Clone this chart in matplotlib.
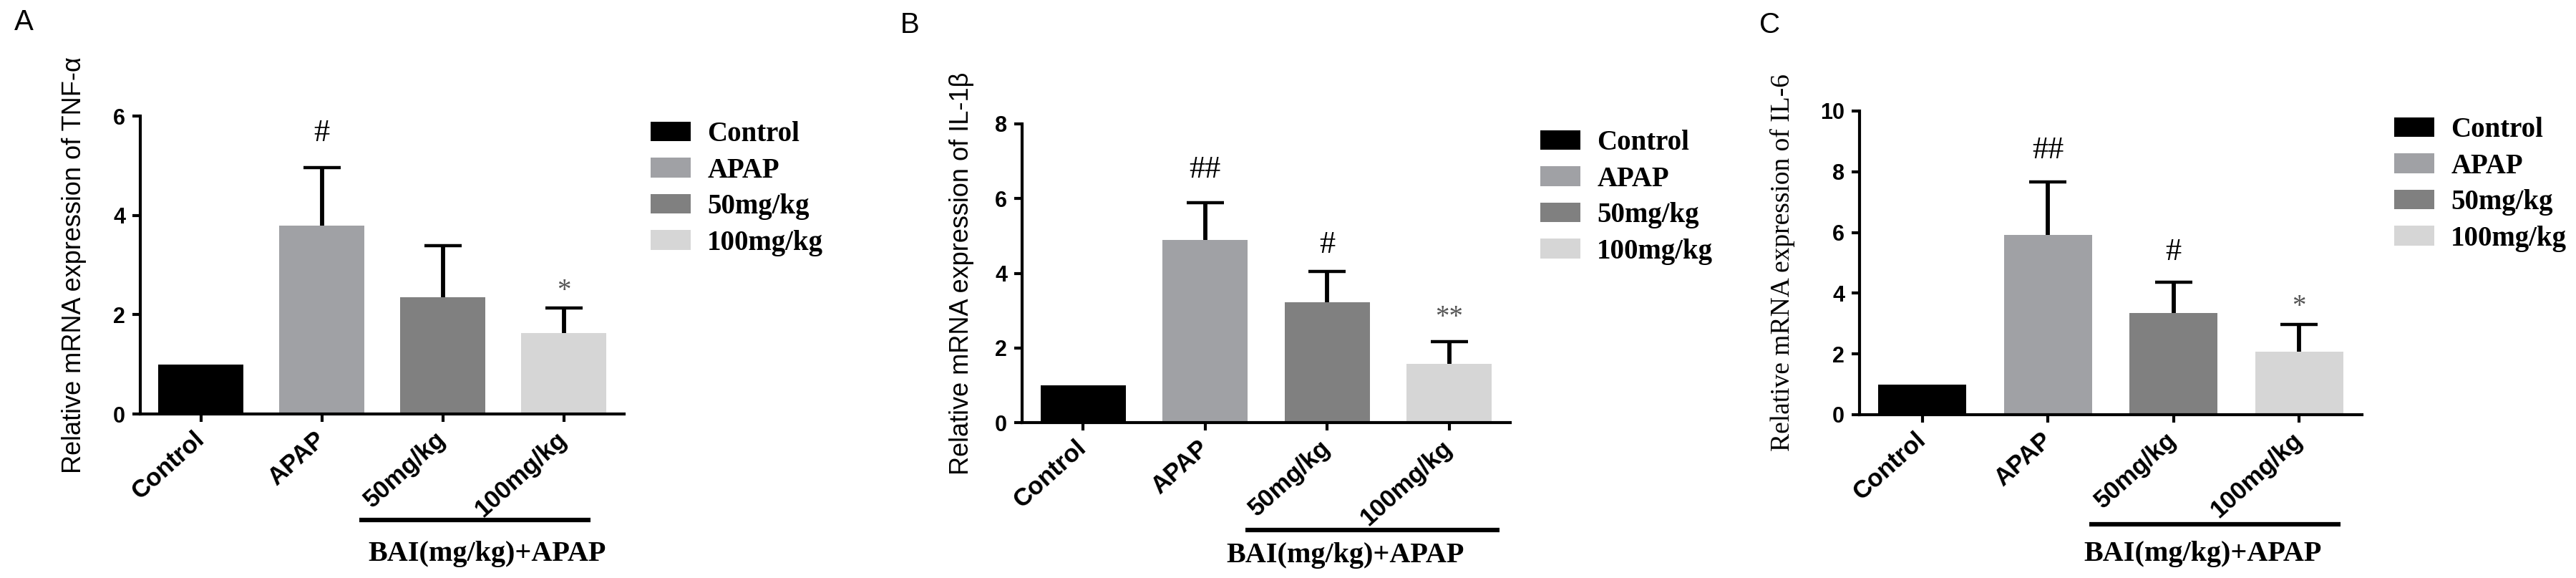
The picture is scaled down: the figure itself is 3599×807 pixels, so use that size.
import numpy as np
import matplotlib
matplotlib.use("Agg")
import matplotlib.pyplot as plt
import matplotlib.transforms as mtransforms
from matplotlib.patches import Patch

groups = ["Control", "APAP", "50mg/kg", "100mg/kg"]
colors = ["#000000", "#a0a1a5", "#808080", "#d6d6d6"]

# mean and upper error (mean + SD)
tnf_mean = [1.0, 3.79, 2.35, 1.63]
tnf_top = [1.0, 4.96, 3.39, 2.13]
tnf_marks = ["", "#", "", "*"]
tnf_mark_y = [0, 5.65, 0, 2.74]

il1b_mean = [1.0, 4.89, 3.22, 1.58]
il1b_top = [1.0, 5.89, 4.05, 2.17]
il1b_marks = ["", "##", "#", "**"]
il1b_mark_y = [0, 6.77, 4.76, 3.17]

il6_mean = [1.0, 5.93, 3.35, 2.07]
il6_top = [1.0, 7.66, 4.37, 2.98]
il6_marks = ["", "##", "#", "*"]
il6_mark_y = [0, 8.71, 5.35, 4.0]

W, H = 3599, 807
SANS = "Liberation Sans"
SERIF = "Liberation Serif"

fig = plt.figure(figsize=(W / 100, H / 100), dpi=100)

# per panel layout: axes box in px (left, top, right, bottom), legend anchor px,
# bracket (x0, x1 in data, y in axes), bracket text position
panels = [
    dict(letter="A", letter_xy=(33, 31), box=(196, 162, 872, 578), ymax=6, yticks=[0, 2, 4, 6],
         ylabel="Relative mRNA expression of TNF-α", yfont=SANS, ysize=26, ylx=-0.111,
         leg=(909, 169), line=(1.31, 3.22, -0.356), txt=(2.37, -0.471),
         mean=tnf_mean, top=tnf_top, marks=tnf_marks, mark_y=tnf_mark_y),
    dict(letter="B", letter_xy=(1271, 35), box=(1428, 173, 2110, 590), ymax=8, yticks=[0, 2, 4, 6, 8],
         ylabel="Relative mRNA expression of IL-1β", yfont=SANS, ysize=26, ylx=-0.098,
         leg=(2152, 181), line=(1.33, 3.41, -0.36), txt=(2.15, -0.446),
         mean=il1b_mean, top=il1b_top, marks=il1b_marks, mark_y=il1b_mark_y),
    dict(letter="C", letter_xy=(2473, 35), box=(2598, 155, 3300, 579), ymax=10, yticks=[0, 2, 4, 6, 8, 10],
         ylabel="Relative mRNA expression of IL-6", yfont=SERIF, ysize=27, ylx=-0.128,
         leg=(3345, 163), line=(1.33, 3.33, -0.361), txt=(2.23, -0.458),
         mean=il6_mean, top=il6_top, marks=il6_marks, mark_y=il6_mark_y),
]

x = np.arange(len(groups))

for p in panels:
    l, t, r, b = p["box"]
    ax = fig.add_axes([l / W, 1 - b / H, (r - l) / W, (b - t) / H])
    mean = np.array(p["mean"])
    top = np.array(p["top"])
    ax.bar(x, mean, width=0.7, color=colors, zorder=2)
    err = top - mean
    keep = err > 0
    _, caps, _ = ax.errorbar(x[keep], mean[keep], yerr=[np.zeros(keep.sum()), err[keep]],
                             fmt="none", ecolor="black", elinewidth=4.2, capsize=19,
                             capthick=3.2, zorder=3)
    caps[0].set_visible(False)  # only the upper cap
    for xi, m, my in zip(x, p["marks"], p["mark_y"]):
        if not m:
            continue
        if "#" in m:
            ax.text(xi, my, m, ha="center", va="center", fontsize=32, family=SERIF, color="black")
        else:
            ax.text(xi, my - 0.045 * p["ymax"], m, ha="center", va="center", fontsize=28,
                    family=SERIF, color="#555555")

    ax.set_xlim(-0.5, 3.5)
    ax.set_ylim(0, p["ymax"])
    ax.set_yticks(p["yticks"])
    ax.set_xticks(x)
    ax.set_xticklabels(groups, rotation=42, ha="right", va="center", rotation_mode="anchor",
                       fontsize=25, fontweight="bold", family=SANS)
    for lab in ax.get_yticklabels():
        lab.set_fontsize(22)
        lab.set_fontweight("bold")
        lab.set_family(SANS)
    for s in ["top", "right"]:
        ax.spines[s].set_visible(False)
    for s in ["left", "bottom"]:
        ax.spines[s].set_linewidth(3)
    ax.tick_params(axis="both", direction="out", length=8, width=3, pad=7)
    ax.tick_params(axis="x", pad=14)
    ax.set_ylabel(p["ylabel"], fontsize=p["ysize"], family=p["yfont"])
    ax.yaxis.set_label_coords(p["ylx"], 0.5)

    handles = [Patch(facecolor=c, edgecolor="none") for c in colors]
    ax.legend(handles, groups, loc="upper left", bbox_to_anchor=(p["leg"][0] / W, 1 - p["leg"][1] / H),
              bbox_transform=fig.transFigure, frameon=False, borderpad=0, borderaxespad=0,
              handlelength=1.44, handleheight=0.72, handletextpad=0.6, labelspacing=0.35,
              prop=dict(family=SERIF, weight="bold", size=28))

    trans = mtransforms.blended_transform_factory(ax.transData, ax.transAxes)
    x0, x1, ly = p["line"]
    ax.plot([x0, x1], [ly, ly], color="black", lw=4.5, transform=trans, clip_on=False,
            solid_capstyle="butt")
    ax.text(p["txt"][0], p["txt"][1], "BAI(mg/kg)+APAP", transform=trans, ha="center", va="center",
            fontsize=29, fontweight="bold", family=SERIF)

    fig.text(p["letter_xy"][0] / W, 1 - p["letter_xy"][1] / H, p["letter"], ha="center", va="center",
             fontsize=29, family=SANS)

fig.savefig("out.png", dpi=100)
